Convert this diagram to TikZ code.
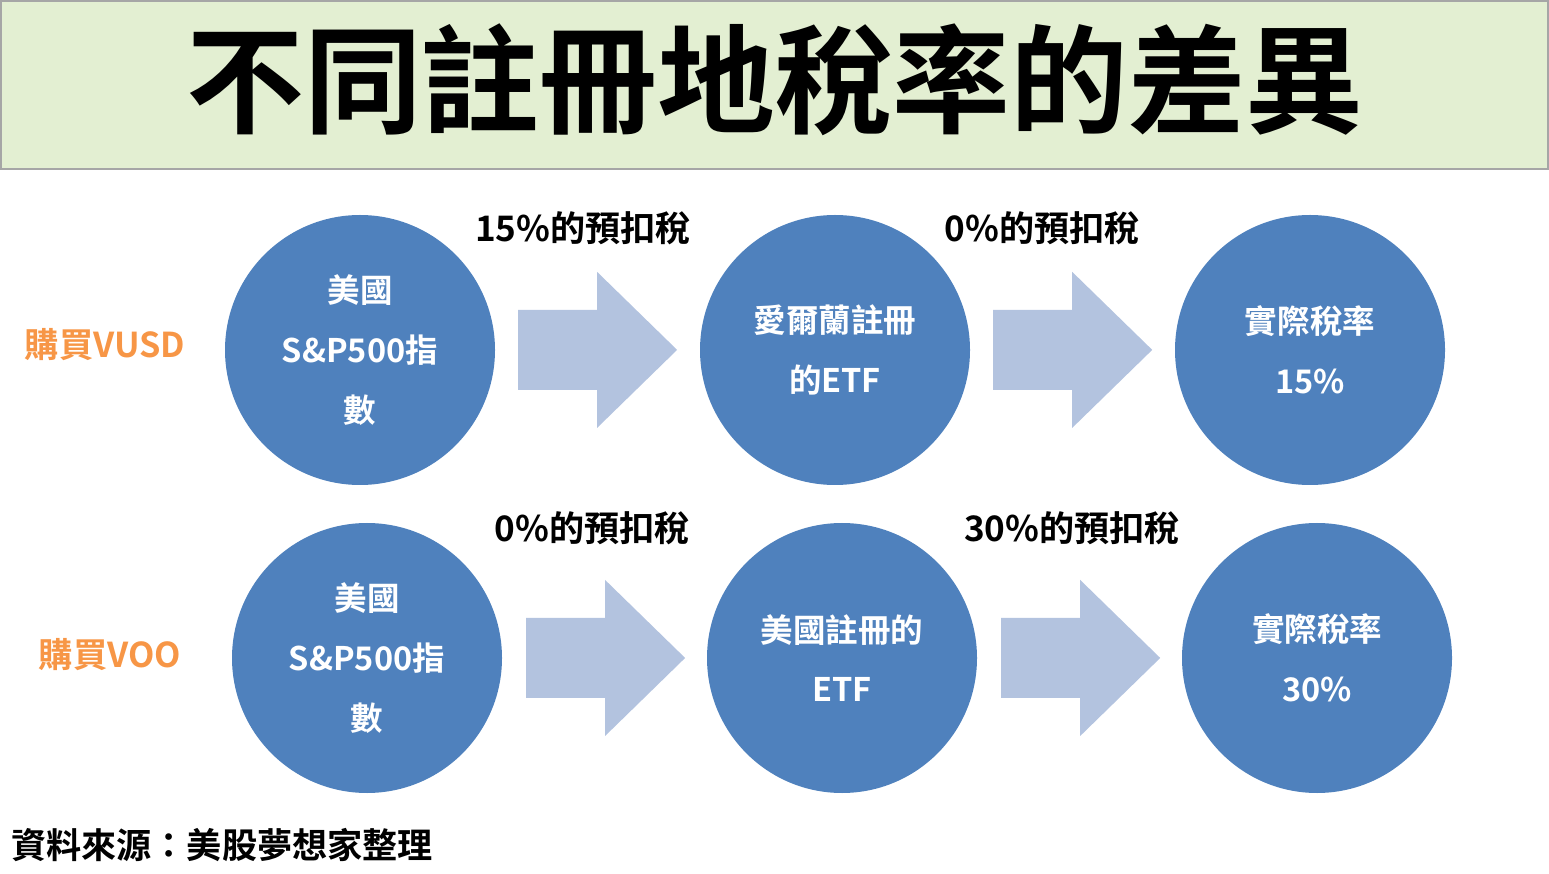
\documentclass[tikz,border=0pt]{standalone}
\usepackage{fontspec}
\setmainfont{Noto Sans CJK TC Bold}
\usetikzlibrary{positioning}
\definecolor{bandgreen}{HTML}{E3EFD2}
\definecolor{circblue}{HTML}{4F81BD}
\definecolor{arrblue}{HTML}{B3C3DF}
\definecolor{buyorange}{HTML}{F79646}
\tikzset{
  circ/.style={circle, fill=circblue, minimum size=5.4cm, inner sep=0pt, text=white,
    align=center, font=\fontsize{18.5}{34}\selectfont},
  taxlbl/.style={font=\fontsize{20}{24}\selectfont},
  buylbl/.style={text=buyorange, font=\fontsize{19.5}{24}\selectfont}
}
\newcommand{\fatarrow}[2]{% left x, centre y (in px)
  \fill[arrblue] (#1*0.02, #2*0.02+0.8) -- (#1*0.02+1.58, #2*0.02+0.8)
    -- (#1*0.02+1.58, #2*0.02+1.56) -- (#1*0.02+3.18, #2*0.02)
    -- (#1*0.02+1.58, #2*0.02-1.56) -- (#1*0.02+1.58, #2*0.02-0.8)
    -- (#1*0.02, #2*0.02-0.8) -- cycle;}
\begin{document}
\begin{tikzpicture}
\useasboundingbox (0,0) rectangle (30.98,17.46);
% title band
\path[fill=bandgreen, draw=gray!70, line width=1pt] (0.02,14.08) rectangle (30.96,17.44);
\node[font=\fontsize{67}{70}\selectfont] (title) at (15.5,15.86) {不同註冊地稅率的差異};

% first row
\node[circ] (us1) at (7.2,10.46) {美國\\S\&P500指\\數};
\node[circ] (ie) at (16.7,10.46) {愛爾蘭註冊\\的ETF};
\node[circ] (eff1) at (26.2,10.46) {實際稅率\\15\%};
\fatarrow{518}{523}
\fatarrow{993}{523}
\node[taxlbl] (tax1) at (11.66,12.9) {15\%的預扣稅};
\node[taxlbl] (tax2) at (20.84,12.9) {0\%的預扣稅};
\node[buylbl] (vusd) at (2.1,10.56) {購買VUSD};

% second row
\node[circ] (us2) at (7.34,4.3) {美國\\S\&P500指\\數};
\node[circ] (usreg) at (16.84,4.3) {美國註冊的\\ETF};
\node[circ] (eff2) at (26.34,4.3) {實際稅率\\30\%};
\fatarrow{526}{215}
\fatarrow{1001}{215}
\node[taxlbl] (tax3) at (11.84,6.9) {0\%的預扣稅};
\node[taxlbl] (tax4) at (21.44,6.9) {30\%的預扣稅};
\node[buylbl] (voo) at (2.2,4.36) {購買VOO};

% source
\node[taxlbl, anchor=west] (src) at (0.1,0.56) {資料來源：美股夢想家整理};
\end{tikzpicture}
\end{document}
